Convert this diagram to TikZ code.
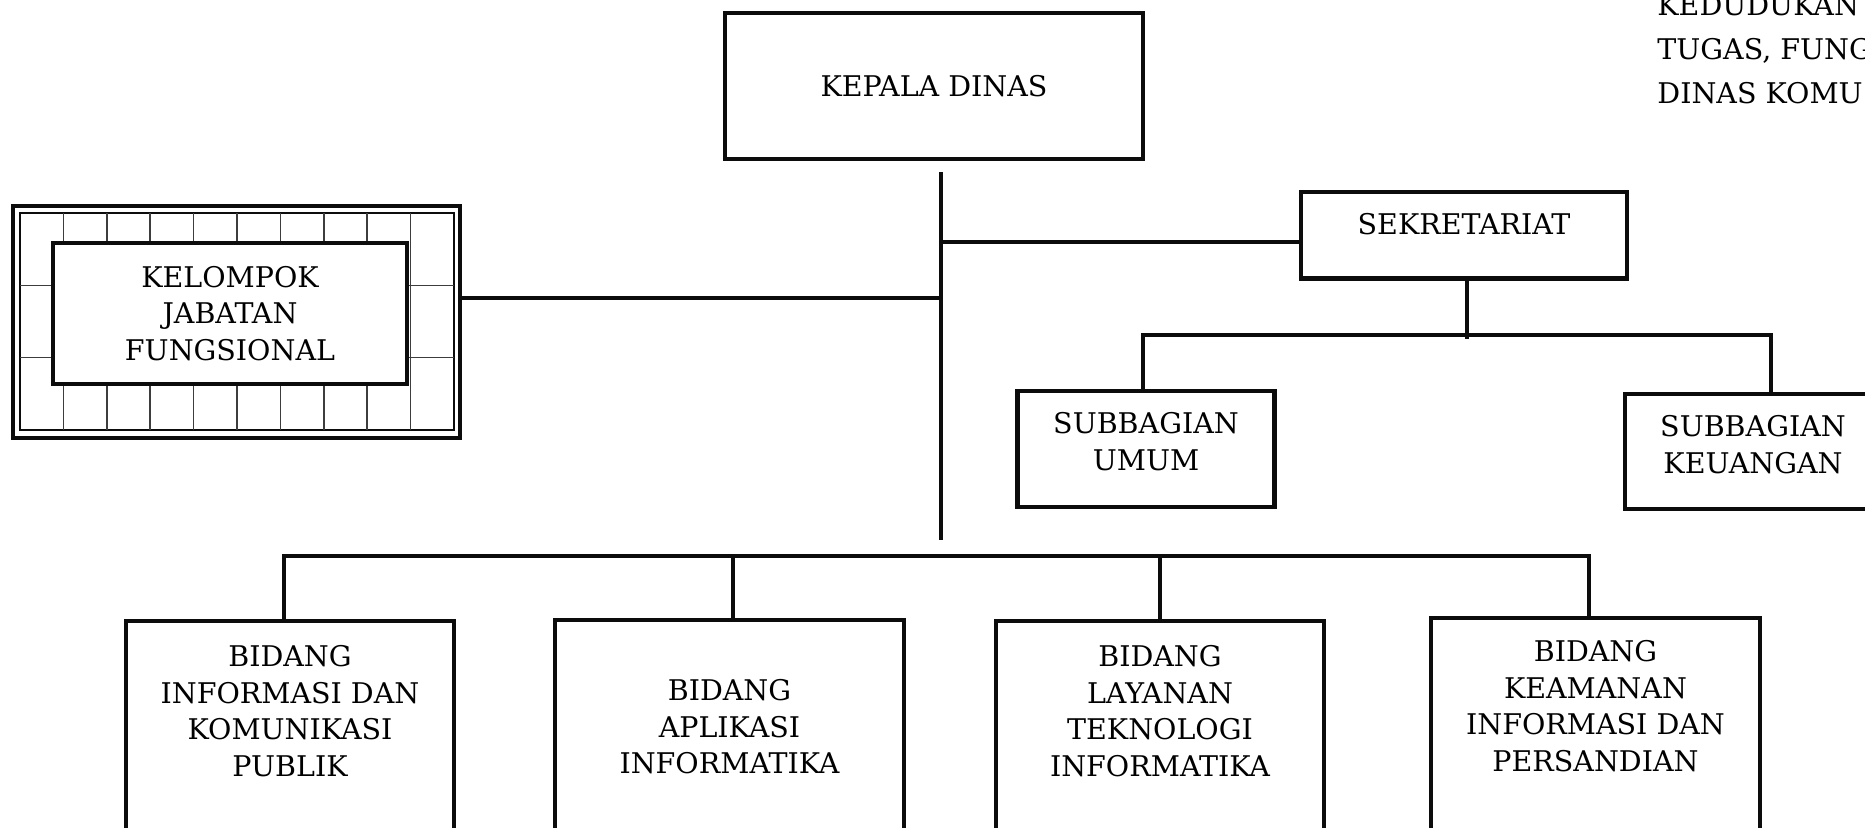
\documentclass[tikz,border=0pt]{standalone}
\usepackage{fontspec}
\setmainfont{DejaVu Serif}
\usetikzlibrary{positioning}
\definecolor{inkblack}{RGB}{12,12,12}
\newcommand\orgfont{\fontsize{14.25}{18.35}\selectfont}

\begin{document}
\begin{tikzpicture}[
        x=0.5pt, y=-0.5pt,
        box/.style={rectangle, draw=inkblack, line width=2.2pt, fill=white, align=center, font=\orgfont, inner xsep=0pt},
        topbox/.style={box, anchor=north, inner ysep=10.5pt},
        bidang/.style={box, anchor=north, minimum width=164pt, inner ysep=12pt, text depth=60pt},
        conn/.style={draw=inkblack, line width=2.2pt},
        gridline/.style={draw=inkblack!80, line width=0.8pt}
    ]
        \useasboundingbox (0,0) rectangle (1865,827);
        \clip (0,0) rectangle (1865,827);

        % kepala dinas dan sekretariat
        \node[box, minimum width=209pt, minimum height=73pt] (kepala) at (934,86) {KEPALA DINAS};
        \node[topbox, minimum width=163pt, text depth=11.5pt] (sek) at (1464,190) {SEKRETARIAT};
        \node[topbox, minimum width=128.5pt, text depth=8pt] (umum) at (1146,389) {SUBBAGIAN\\UMUM};
        \node[topbox, minimum width=128pt, text depth=7.5pt] (keu) at (1753,392) {SUBBAGIAN\\KEUANGAN};

        % kelompok jabatan fungsional
        \node[draw=inkblack, line width=2.2pt, minimum width=223.5pt, minimum height=116pt] (kjfframe) at (236.5,322) {};
        \draw[inkblack, line width=0.8pt] (20,213) rectangle (454,430);
        \foreach \i in {1,...,9}
            \draw[gridline] ({20+43.4*\i},213) -- ++(0,217);
        \foreach \j in {1,2}
            \draw[gridline] (20,{213+72.33*\j}) -- ++(434,0);
        \node[box, minimum width=177pt, minimum height=70.5pt] (kjf) at (230,313.5) {KELOMPOK\\JABATAN\\FUNGSIONAL};

        % bidang
        \node[bidang] (inf) at (290,619) {BIDANG\\INFORMASI DAN\\KOMUNIKASI\\PUBLIK};
        \node[bidang, minimum width=174.5pt, inner ysep=29.5pt] (apl) at (729.5,618) {BIDANG\\APLIKASI\\INFORMATIKA};
        \node[bidang] (lay) at (1160,619) {BIDANG\\LAYANAN\\TEKNOLOGI\\INFORMATIKA};
        \node[bidang, minimum width=164.5pt, inner ysep=11pt] (kam) at (1595.5,616) {BIDANG\\KEAMANAN\\INFORMASI DAN\\PERSANDIAN};

        % judul (terpotong di tepi)
        \node[anchor=north west, inner sep=0pt, align=left, font=\fontsize{14.25}{22}\selectfont] (judul) at (1657,-6) {KEDUDUKAN\\TUGAS, FUNG\\DINAS KOMU};

        % garis
        \coordinate (spinetop) at (941,172);
        \coordinate (spinebot) at (941,540);
        \coordinate (jsek) at (941,242);
        \coordinate (jkf) at (941,298);
        \coordinate (subhub) at (1467,339);
        \coordinate (keudrop) at (1771,335);
        \coordinate (bus) at (941,556);
        \draw[conn] (spinetop) -- (spinebot);
        \draw[conn] (jsek) -- (jsek -| sek.west);
        \draw[conn] (jkf) -- (jkf -| kjfframe.east);
        \draw[conn] (subhub |- sek.south) -- (subhub);
        \draw[conn] ([xshift=-1.5pt]umum.north) |- (keudrop) -- (keudrop |- keu.north);
        \draw[conn] ([xshift=-3pt]inf.north) |- (bus) -| ([xshift=-3.25pt]kam.north);
        \draw[conn] ([xshift=1.75pt]apl.north) -- ([xshift=1.75pt]apl.north |- bus);
        \draw[conn] (lay.north) -- (lay.north |- bus);
    \end{tikzpicture}
\end{document}
